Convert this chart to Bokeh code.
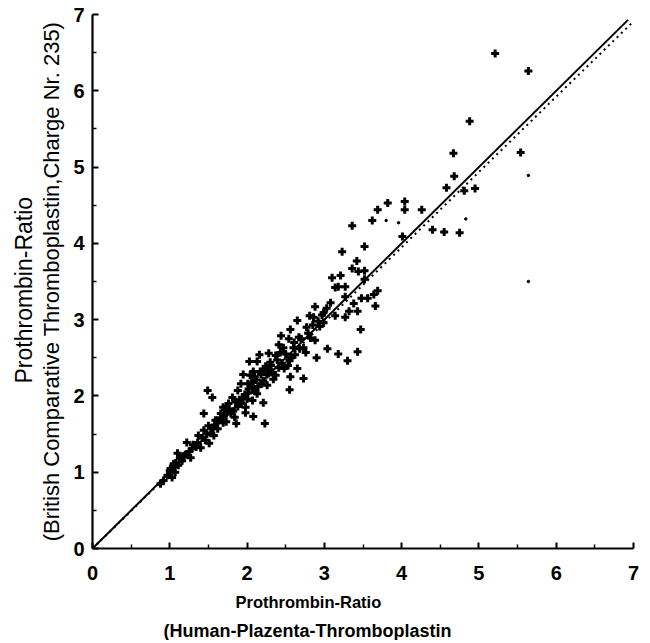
from bokeh.plotting import figure
from bokeh.models import Range1d, Title, FixedTicker
from bokeh.embed import file_html
from bokeh.resources import INLINE

# Scatter data: x = Human-Plazenta-Thromboplastin ratio, y = BCT ratio
px = [5.21, 5.64, 4.88, 4.67, 5.54, 4.68, 4.58, 4.81, 4.95, 4.04, 4.04, 4.26, 4.40, 4.55, 4.75, 4.01,
      3.69, 3.82, 3.62, 3.36, 3.23, 3.52, 3.42, 3.36, 3.44, 3.52, 3.21, 3.10, 3.52, 3.14, 3.18, 3.27,
      3.69, 3.64, 3.56, 3.48, 3.66, 3.38, 3.27, 2.88, 3.43, 3.32, 2.81, 2.86, 2.99, 3.14, 3.27, 2.65,
      2.77, 2.94, 2.56, 3.47, 2.99, 3.43, 3.30, 3.18, 2.90, 3.04, 2.44, 2.54, 2.88, 2.67, 2.41, 2.47,
      2.60, 2.73, 2.76, 2.28, 2.16, 2.37, 2.43, 2.57, 2.03, 2.13, 2.30, 2.55, 2.24, 2.41, 2.65, 2.08,
      2.17, 2.28, 1.95, 2.04, 2.37, 2.56, 2.73, 2.12, 2.21, 2.01, 1.92, 2.08, 2.26, 2.55, 1.49, 1.55,
      1.88, 2.01, 2.13, 1.81, 1.94, 2.07, 2.21, 1.76, 1.88, 1.98, 1.69, 1.44, 2.23, 2.08, 1.86, 1.98,
      1.72, 1.79, 1.66, 1.59, 1.69, 1.50, 1.62, 1.44, 1.53, 1.37, 1.46, 1.22, 1.36, 1.51, 1.40, 1.29,
      1.27, 1.20, 1.10, 1.16, 1.05, 1.11, 1.01, 1.07, 0.97, 1.03, 0.92, 0.88,
      1.00, 1.04, 1.08, 1.13, 1.17, 1.25, 1.30, 1.34, 1.42, 1.48, 1.55, 1.58, 1.62, 1.66, 1.70, 1.74,
      1.77, 1.82, 1.85, 1.90, 1.93, 1.97, 2.02, 2.06, 2.10, 2.14, 2.18, 2.22, 2.26, 2.31, 2.34, 2.39,
      2.45, 2.50, 2.53, 2.61, 2.70, 2.79, 2.85, 2.92, 2.97, 3.03, 3.08, 1.84, 1.73, 1.57, 2.00, 2.11,
      2.19, 2.33, 2.48, 2.62, 2.68, 2.82]
py = [6.49, 6.26, 5.60, 5.18, 5.19, 4.88, 4.73, 4.69, 4.72, 4.55, 4.44, 4.44, 4.18, 4.15, 4.14, 4.09,
      4.44, 4.53, 4.30, 4.23, 3.89, 3.96, 3.77, 3.67, 3.63, 3.64, 3.58, 3.55, 3.53, 3.42, 3.43, 3.43,
      3.38, 3.33, 3.28, 3.28, 3.18, 3.21, 3.30, 3.17, 3.11, 3.11, 3.05, 3.03, 2.96, 3.05, 3.03, 2.99,
      2.90, 2.91, 2.87, 2.87, 3.09, 2.58, 2.46, 2.55, 2.50, 2.62, 2.79, 2.75, 2.73, 2.77, 2.67, 2.63,
      2.63, 2.63, 2.57, 2.56, 2.54, 2.53, 2.57, 2.50, 2.45, 2.45, 2.44, 2.46, 2.39, 2.37, 2.36, 2.32,
      2.32, 2.33, 2.28, 2.27, 2.27, 2.25, 2.23, 2.21, 2.20, 2.16, 2.16, 2.12, 2.14, 2.08, 2.07, 1.98,
      2.07, 2.04, 2.03, 1.98, 1.97, 1.94, 1.91, 1.90, 1.86, 1.85, 1.85, 1.77, 1.64, 1.73, 1.64, 1.78,
      1.83, 1.77, 1.77, 1.68, 1.65, 1.61, 1.57, 1.55, 1.51, 1.48, 1.42, 1.39, 1.39, 1.38, 1.32, 1.31,
      1.19, 1.23, 1.25, 1.15, 1.11, 1.09, 1.05, 1.00, 0.96, 0.93, 0.89, 0.85,
      1.02, 1.07, 1.12, 1.18, 1.21, 1.27, 1.36, 1.33, 1.45, 1.50, 1.58, 1.62, 1.68, 1.70, 1.74, 1.79,
      1.83, 1.80, 1.92, 1.95, 1.90, 2.02, 2.09, 2.18, 2.25, 2.12, 2.28, 2.35, 2.28, 2.40, 2.22, 2.47,
      2.43, 2.55, 2.40, 2.70, 2.75, 2.82, 2.93, 2.98, 3.06, 3.15, 3.22, 1.72, 1.66, 1.48, 1.96, 2.06,
      2.16, 2.31, 2.36, 2.54, 2.62, 2.76]

# Small dots (not crosses)
dx = [5.64, 4.83, 5.64, 3.80, 3.96]
dy = [4.89, 4.32, 3.50, 4.30, 4.27]

# Reference lines
line_x = [0, 6.93]
line_y = [0, 6.93]
dot_x = [0, 7.0]
dot_y = [0, 6.91]

ticks = [0, 1, 2, 3, 4, 5, 6, 7]

p = figure(width=645, height=640, output_backend="svg", toolbar_location=None,
           x_range=Range1d(0, 7), y_range=Range1d(0, 7),
           min_border_left=92, min_border_right=12, min_border_top=14, min_border_bottom=92)
p.outline_line_color = None
p.xgrid.visible = False
p.ygrid.visible = False
p.background_fill_color = "white"

for ax in (p.xaxis[0], p.yaxis[0]):
    ax.ticker = FixedTicker(ticks=ticks, minor_ticks=[0.5 + i for i in range(7)])
    ax.axis_line_width = 2.2
    ax.axis_line_color = "black"
    ax.major_tick_in = 6
    ax.major_tick_out = 0
    ax.minor_tick_in = 4
    ax.minor_tick_out = 0
    ax.major_tick_line_width = 2
    ax.minor_tick_line_width = 1.5
    ax.major_label_text_font = "Liberation Sans"
    ax.major_label_text_font_style = "bold"
    ax.major_label_text_font_size = "20px"
    ax.major_label_text_color = "black"
p.xaxis[0].major_label_standoff = 17
p.yaxis[0].major_label_standoff = 8

# y axis: second label line as axis label
p.yaxis[0].axis_label = "(British Comparative Thromboplastin,Charge Nr. 235)"
p.yaxis[0].axis_label_standoff = 6
p.yaxis[0].axis_label_text_font = "Liberation Sans"
p.yaxis[0].axis_label_text_font_style = "normal"
p.yaxis[0].axis_label_text_font_size = "22px"
p.yaxis[0].axis_label_text_color = "black"

p.line(line_x, line_y, line_color="black", line_width=2)
p.line(dot_x, dot_y, line_color="black", line_width=2, line_dash="2 4")
p.scatter(px, py, marker="cross", size=8, line_width=3, line_color="black")
p.scatter(dx, dy, marker="circle", size=2.5, fill_color="black", line_color="black")

lab_font = "Liberation Sans"
p.add_layout(Title(text="Prothrombin-Ratio", align="left", offset=143, standoff=16,
                   text_font=lab_font, text_font_style="bold", text_font_size="16.5px",
                   text_color="black"), "below")
p.add_layout(Title(text="(Human-Plazenta-Thromboplastin", align="left", offset=71, standoff=0,
                   text_font=lab_font, text_font_style="bold", text_font_size="18px",
                   text_color="black"), "below")
p.add_layout(Title(text="Prothrombin-Ratio", align="left", offset=165, standoff=0,
                   text_font=lab_font, text_font_style="normal", text_font_size="23px",
                   text_color="black"), "left")

open("out.html", "w").write(file_html(p, INLINE))
